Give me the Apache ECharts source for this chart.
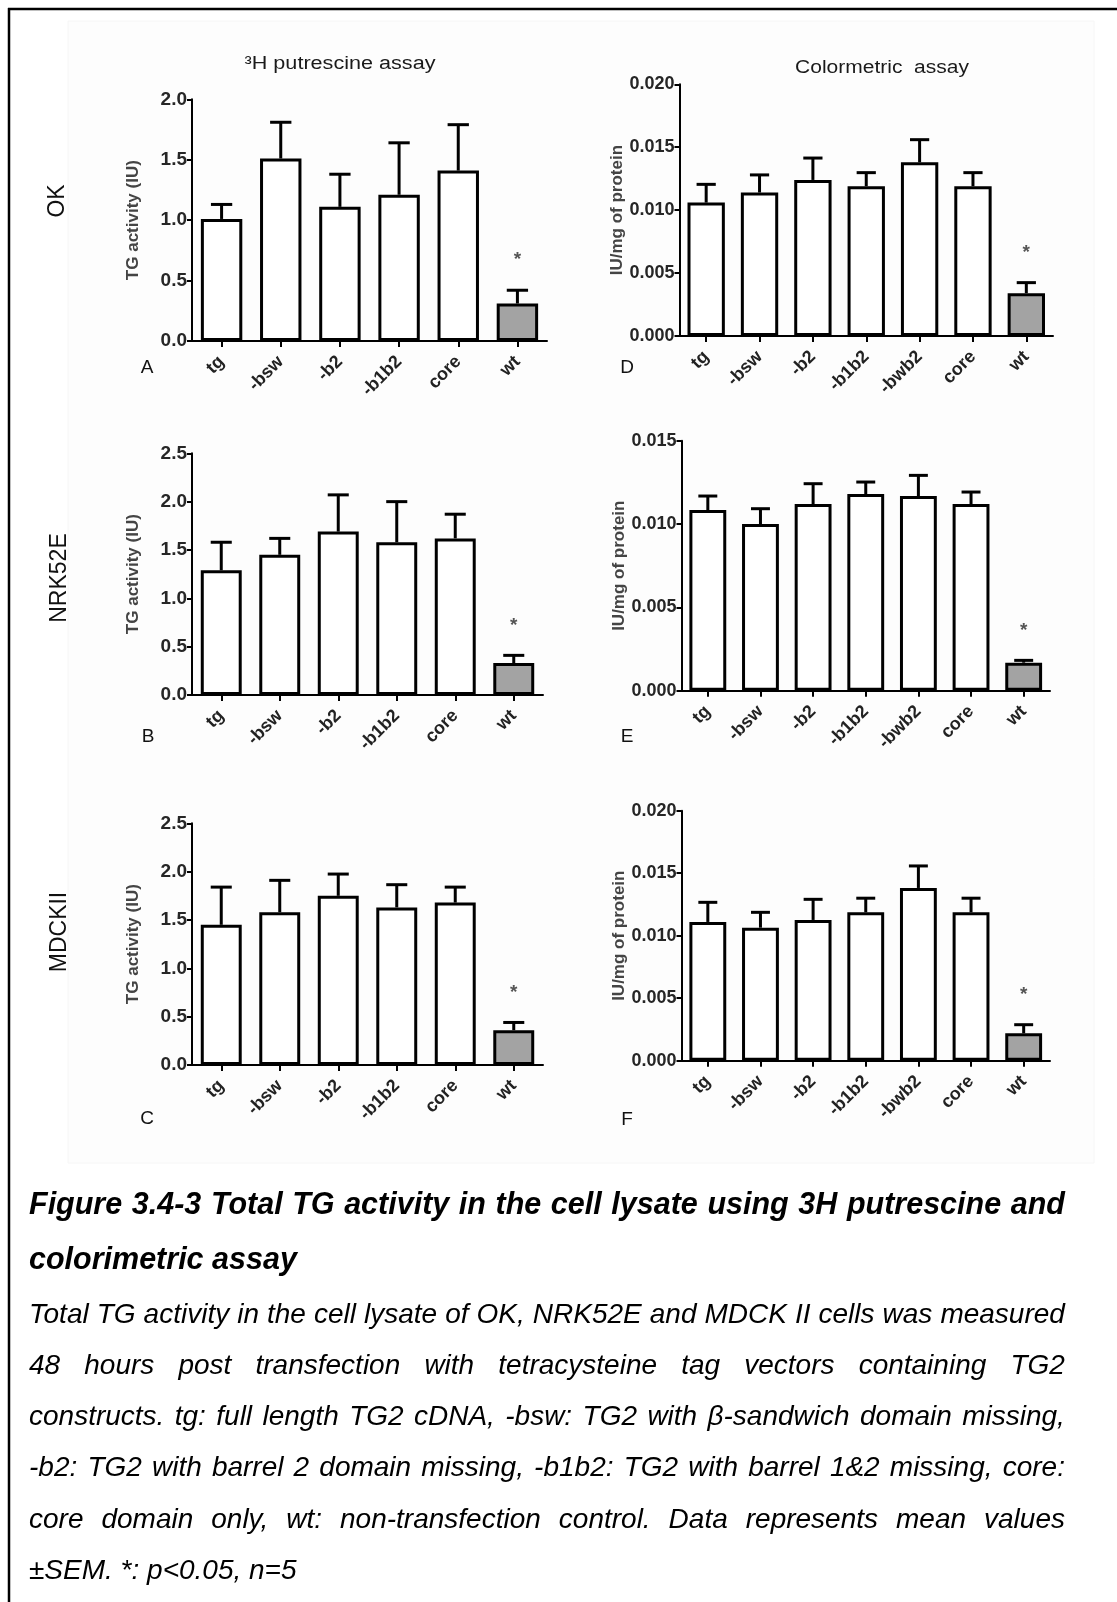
<!DOCTYPE html>
<html>
<head>
<meta charset="utf-8">
<script src="https://cdn.jsdelivr.net/npm/echarts@6/dist/echarts.min.js"></script>
<style>
html,body{margin:0;padding:0;background:#fff;}
#chart{position:absolute;left:0;top:0;width:1117px;height:1602px;}
#caption{position:absolute;left:29px;top:0;width:1036px;font-family:'Liberation Sans',Arial,sans-serif;color:#000;}
.ln{position:absolute;left:0;width:1036px;white-space:nowrap;}
.j{display:flex;justify-content:space-between;}
.t{font-weight:bold;font-style:italic;font-size:30.5px;line-height:55px;}
.b{font-style:italic;font-size:28px;line-height:51px;}
</style>
</head>
<body>
<div id="chart"></div>
<div id="caption"></div>
<script>
// ---------- data ----------
const cats3H = ['tg', '-bsw', '-b2', '-b1b2', 'core', 'wt'];
const catsCol = ['tg', '-bsw', '-b2', '-b1b2', '-bwb2', 'core', 'wt'];
const sig3H = ['', '', '', '', '', '*'];
const sigCol = ['', '', '', '', '', '', '*'];

// A: OK, 3H putrescine assay (TG activity, IU)
const okMean3H = [1.01, 1.51, 1.11, 1.21, 1.41, 0.31];
const okSem3H  = [0.12, 0.30, 0.27, 0.43, 0.38, 0.11];
// B: NRK52E, 3H putrescine assay
const nrkMean3H = [1.29, 1.45, 1.69, 1.58, 1.62, 0.33];
const nrkSem3H  = [0.29, 0.17, 0.38, 0.42, 0.25, 0.08];
// C: MDCKII, 3H putrescine assay
const mdckMean3H = [1.45, 1.58, 1.75, 1.63, 1.68, 0.36];
const mdckSem3H  = [0.39, 0.33, 0.225, 0.235, 0.16, 0.08];

// D: OK, colorimetric assay (IU/mg of protein)
const okMeanCol = [0.0106, 0.0114, 0.0124, 0.0119, 0.0138, 0.0119, 0.0034];
const okSemCol  = [0.00145, 0.0014, 0.00174, 0.00108, 0.0018, 0.00108, 0.00084];
// E: NRK52E, colorimetric assay
const nrkMeanCol = [0.01084, 0.0100, 0.0112, 0.0118, 0.01168, 0.0112, 0.00168];
const nrkSemCol  = [0.00084, 0.00092, 0.00122, 0.00072, 0.00124, 0.00072, 0.00014];
// F: MDCKII, colorimetric assay
const mdckMeanCol = [0.0111, 0.01064, 0.01126, 0.01187, 0.01382, 0.01187, 0.00219];
const mdckSemCol  = [0.00157, 0.00123, 0.00165, 0.00113, 0.00176, 0.00113, 0.00069];

// axis ticks
const yMax3H = [2.0, 2.5, 2.5];
const yMaxCol = [0.020, 0.015, 0.020];
const yStep3H = 0.5;
const yStepCol = 0.005;

const title3H = '³H putrescine assay';
const titleCol = 'Colormetric  assay';
const rowLabels = ['OK', 'NRK52E', 'MDCKII'];
const panelLetters = ['A', 'B', 'C', 'D', 'E', 'F'];
const yName3H = 'TG activity (IU)';
const yNameCol = 'IU/mg of protein';

const captionTitle = [
  'Figure 3.4-3 Total TG activity in the cell lysate using 3H putrescine and',
  'colorimetric assay'
];
const captionBody = [
  'Total TG activity in the cell lysate of OK, NRK52E and MDCK II cells was measured',
  '48 hours post transfection with tetracysteine tag vectors containing TG2',
  'constructs. tg: full length TG2 cDNA, -bsw: TG2 with β-sandwich domain missing,',
  '-b2: TG2 with barrel 2 domain missing, -b1b2: TG2 with barrel 1&2 missing, core:',
  'core domain only, wt: non-transfection control. Data represents mean values',
  '±SEM. *: p<0.05, n=5'
];

// ---------- layout ----------
const FONT = "'Liberation Sans', Arial, sans-serif";
const panels = [
  {cats: cats3H, mean: okMean3H, sem: okSem3H, sig: sig3H, max: yMax3H[0], step: yStep3H, dec: 1, name: yName3H, l: 192, r: 547, t: 99.3, b: 341},
  {cats: cats3H, mean: nrkMean3H, sem: nrkSem3H, sig: sig3H, max: yMax3H[1], step: yStep3H, dec: 1, name: yName3H, l: 192, r: 543, t: 453.3, b: 695},
  {cats: cats3H, mean: mdckMean3H, sem: mdckSem3H, sig: sig3H, max: yMax3H[2], step: yStep3H, dec: 1, name: yName3H, l: 192, r: 543, t: 823.3, b: 1065},
  {cats: catsCol, mean: okMeanCol, sem: okSemCol, sig: sigCol, max: yMaxCol[0], step: yStepCol, dec: 3, name: yNameCol, l: 679.5, r: 1053, t: 84.3, b: 336},
  {cats: catsCol, mean: nrkMeanCol, sem: nrkSemCol, sig: sigCol, max: yMaxCol[1], step: yStepCol, dec: 3, name: yNameCol, l: 681.5, r: 1050, t: 440.7, b: 690.7},
  {cats: catsCol, mean: mdckMeanCol, sem: mdckSemCol, sig: sigCol, max: yMaxCol[2], step: yStepCol, dec: 3, name: yNameCol, l: 681.5, r: 1050, t: 810.7, b: 1060.7}
];

const grid = [], xAxis = [], yAxis = [], series = [];
panels.forEach((p, i) => {
  grid.push({left: p.l, top: p.t, width: p.r - p.l, height: p.b - p.t, containLabel: false});
  xAxis.push({
    gridIndex: i, type: 'category', data: p.cats,
    axisLine: {show: true, lineStyle: {color: '#000', width: 2}},
    axisTick: {show: true, alignWithLabel: true, length: 6, lineStyle: {color: '#000', width: 2}},
    axisLabel: {interval: 0, rotate: 45, fontFamily: FONT, fontWeight: 'bold', fontSize: 18, color: '#222', margin: 18},
    splitLine: {show: false}
  });
  yAxis.push({
    gridIndex: i, type: 'value', min: 0, max: p.max, interval: p.step,
    axisLine: {show: true, lineStyle: {color: '#000', width: 2}},
    axisTick: {show: true, length: 5, lineStyle: {color: '#000', width: 2}},
    splitLine: {show: false},
    axisLabel: {formatter: v => v.toFixed(p.dec), fontFamily: FONT, fontWeight: 'bold', fontSize: p.dec === 1 ? 19 : 18, color: '#262626', margin: 5},
    name: p.name, nameLocation: 'middle', nameGap: p.dec === 1 ? 50 : 54,
    nameTextStyle: {fontFamily: FONT, fontWeight: 'bold', fontSize: 17, color: '#444'}
  });
  series.push({
    type: 'bar', xAxisIndex: i, yAxisIndex: i, barWidth: '70%', animation: false, silent: true,
    itemStyle: {borderColor: '#000', borderWidth: 3},
    data: p.mean.map((v, j) => ({value: v, itemStyle: {color: p.cats[j] === 'wt' ? '#a3a3a3' : '#fff'}})),
    z: 2
  });
  series.push({
    type: 'custom', xAxisIndex: i, yAxisIndex: i, animation: false, silent: true, z: 3,
    data: p.mean.map((v, j) => [j, v, p.sem[j]]),
    renderItem: (params, api) => {
      const x = api.value(0), m = api.value(1), s = api.value(2);
      const p0 = api.coord([x, m]);
      const p1 = api.coord([x, m + s]);
      const half = api.size([1, 0])[0] * 0.18;
      const st = {stroke: '#000', lineWidth: 3};
      const children = [
        {type: 'line', shape: {x1: p0[0], y1: p0[1], x2: p1[0], y2: p1[1]}, style: st},
        {type: 'line', shape: {x1: p1[0] - half, y1: p1[1], x2: p1[0] + half, y2: p1[1]}, style: st}
      ];
      const mark = p.sig[params.dataIndex];
      if (mark) {
        children.push({type: 'text', x: p1[0], y: p1[1] - 30,
          style: {text: mark, fill: '#555', font: 'bold 19px ' + FONT, align: 'center', verticalAlign: 'middle', textAlign: 'center', textVerticalAlign: 'middle'}});
      }
      return {type: 'group', children};
    }
  });
});

// ---------- decorations ----------
const txt = (text, x, y, size, opts = {}) => ({
  type: 'text', x, y, rotation: opts.rot || 0, scaleX: opts.sx || 1, scaleY: opts.sy || 1, z: 10,
  style: {text, fill: opts.fill || '#111', font: (opts.weight || 'normal') + ' ' + size + 'px ' + FONT,
    align: 'center', verticalAlign: 'middle', textAlign: 'center', textVerticalAlign: 'middle'}
});
const graphic = [
  {type: 'rect', shape: {x: 68, y: 21, width: 1026, height: 1142}, style: {fill: '#fdfdfd', stroke: '#f6f6f6', lineWidth: 1}, z: -1},
  {type: 'line', shape: {x1: 8, y1: 9, x2: 1117, y2: 9}, style: {stroke: '#000', lineWidth: 2.5}, z: 10},
  {type: 'line', shape: {x1: 9, y1: 8, x2: 9, y2: 1602}, style: {stroke: '#000', lineWidth: 2.5}, z: 10},
  txt(title3H, 340, 64, 18, {sx: 1.2, fill: '#1a1a1a'}),
  txt(titleCol, 882, 68, 17.5, {sx: 1.2, fill: '#1a1a1a'}),
  txt(rowLabels[0], 58, 201, 23, {rot: Math.PI / 2}),
  txt(rowLabels[1], 60, 578, 23, {rot: Math.PI / 2}),
  txt(rowLabels[2], 60, 932, 23, {rot: Math.PI / 2}),
  txt(panelLetters[0], 147, 368, 19),
  txt(panelLetters[1], 148, 737, 19),
  txt(panelLetters[2], 147, 1119, 19),
  txt(panelLetters[3], 627, 368, 19),
  txt(panelLetters[4], 627, 737, 19),
  txt(panelLetters[5], 627, 1120, 19)
];

const chart = echarts.init(document.getElementById('chart'), null, {renderer: 'canvas'});
chart.setOption({animation: false, backgroundColor: '#fff', grid, xAxis, yAxis, series, graphic});

// ---------- caption (justified lines) ----------
const cap = document.getElementById('caption');
function addLine(text, cls, top, justify) {
  const d = document.createElement('div');
  d.className = 'ln ' + cls + (justify ? ' j' : '');
  d.style.top = top + 'px';
  if (justify) {
    text.split(' ').forEach(w => { const s = document.createElement('span'); s.textContent = w; d.appendChild(s); });
  } else {
    d.textContent = text;
  }
  cap.appendChild(d);
}
// baseline targets: title 1215 / 1270, body 1322.7 + k*51.3
captionTitle.forEach((l, k) => addLine(l, 't', 1176 + k * 55, k < captionTitle.length - 1));
captionBody.forEach((l, k) => addLine(l, 'b', 1287.5 + k * 51.3, k < captionBody.length - 1));
</script>
</body>
</html>
